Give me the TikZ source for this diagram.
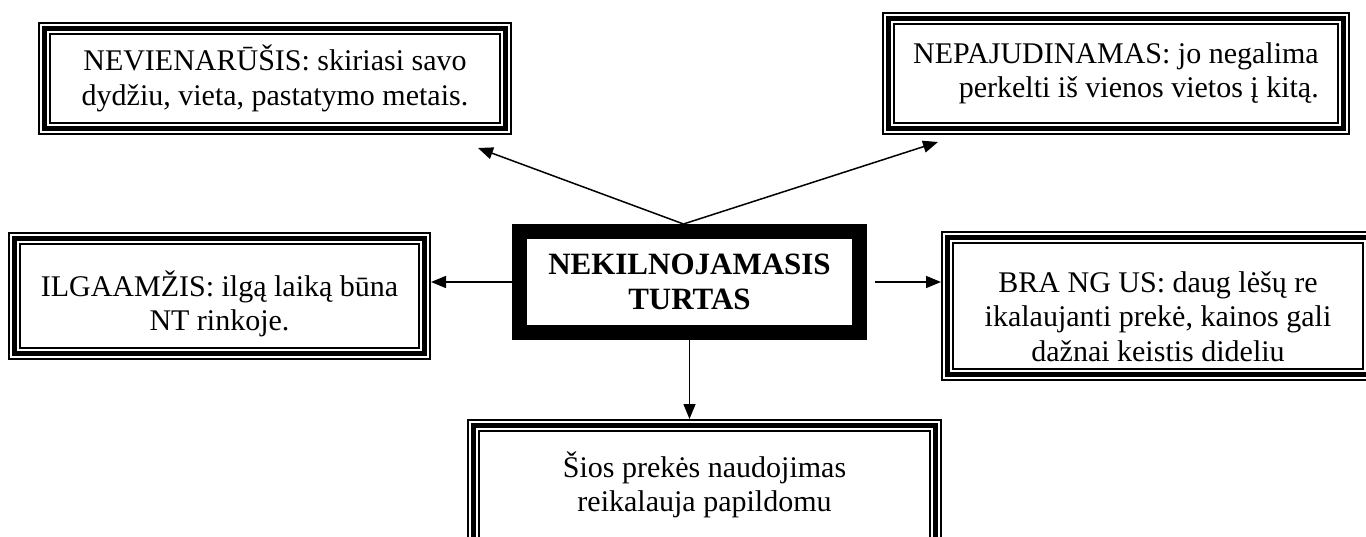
\documentclass[tikz,border=0pt]{standalone}
\usepackage{fontspec}
\setmainfont{Liberation Serif}
\usetikzlibrary{arrows.meta}

\begin{document}
\begin{tikzpicture}[
		x=1pt, y=1pt,
		font=\fontsize{30}{34.5}\selectfont,
		F/.style = {rectangle, draw, line width=13pt,% triple framed boxes
			postaction={draw=white, line width=9pt},
			postaction={draw=black, line width=5pt},
			outer sep=6.5pt, inner sep=0pt, align=center},
		C/.style = {rectangle, draw, line width=15pt,% the thick middle box
			outer sep=7.5pt, minimum width=340pt, minimum height=101pt,
			align=center, font=\fontsize{31}{35}\selectfont\bfseries},
		A/.style = {-{Triangle[length=15pt, width=12pt]}, line width=1.5pt},
		]
		\clip (0,0) rectangle (1366,-537);
		\node[C] (nt) at (689.5,-282) {NEKILNOJAMASIS\\ TURTAS};
		\node[F, minimum width=461pt, minimum height=100pt] (nevien) at (275,-78.5)
			{NEVIENARŪŠIS: skiriasi savo\\ dydžiu, vieta, pastatymo metais.};
		\node[F, minimum width=455pt, minimum height=110pt, align=right] (nepaj) at (1116,-73.5)
			{NEPAJUDINAMAS: jo negalima\\ perkelti iš vienos vietos į kitą.};
		\node[F, minimum width=410pt, minimum height=115pt] (ilgaam) at (219.5,-296)
			{\rule{0pt}{41pt}ILGAAMŽIS: ilgą laiką būna\\ NT rinkoje.};
		\node[F, minimum width=421pt, minimum height=137pt] (brang) at (1158,-306)
			{\rule{0pt}{42pt}BRA NG US: daug lėšų re\\ ikalaujanti prekė, kainos gali\\ dažnai keistis dideliu};
		\node[F, minimum width=462pt, minimum height=119pt] (sios) at (704.5,-485)
			{Šios prekės naudojimas\\ reikalauja papildomu};
		% free ends of the two upper arrows
		\coordinate (nevienTip) at (478,-148);
		\coordinate (nepajTip) at (938,-142);
		\draw[A] ([xshift=-6pt]nt.north) -- (nevienTip);
		\draw[A] ([xshift=-6pt]nt.north) -- (nepajTip);
		\draw[A] (nt.west) -- (nt.west -| ilgaam.east);
		\draw[A, shorten <=8pt] (nt.east) -- (nt.east -| brang.west);
		\draw[A] (nt.south) -- (nt.south |- sios.north);
	\end{tikzpicture}
\end{document}
